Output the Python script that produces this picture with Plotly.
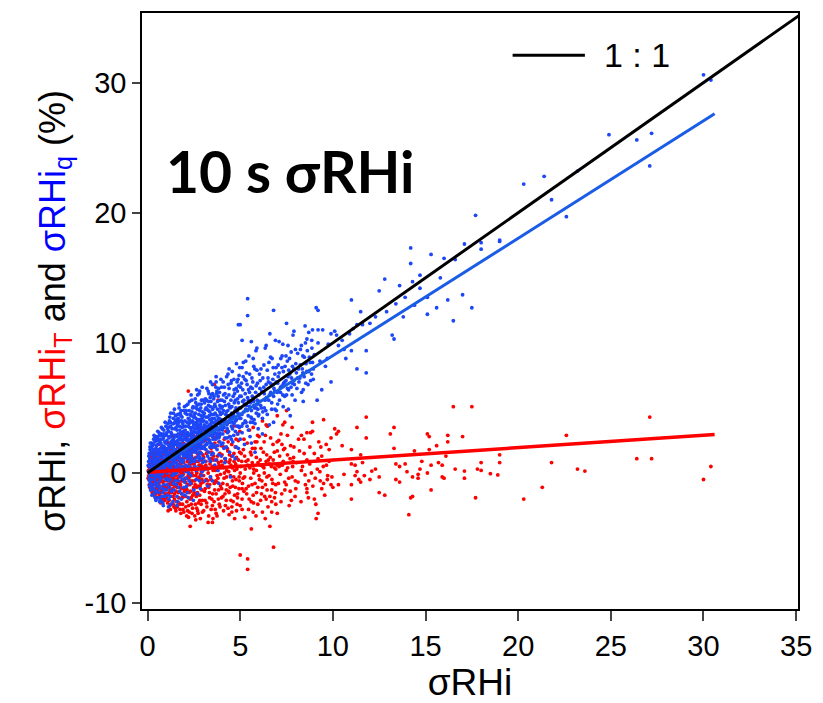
import plotly.graph_objects as go

# ---- sigma RHi (x) vs. sigma RHi_q (blue) and sigma RHi_T (red), 10 s windows ----

blue_core = [
    (0.05,0.1),(0.08,-0.4),(0.1,0.5),(0.12,1.1),(0.15,-0.8),(0.18,0.3),(0.2,1.6),(0.22,-1.2),(0.25,0.8),(0.27,2.1),
    (0.3,-0.2),(0.32,1.3),(0.35,-1.6),(0.37,0.6),(0.4,2.4),(0.42,-0.7),(0.45,1.9),(0.47,0.0),(0.5,-1.0),(0.06,0.9),
    (0.11,-1.0),(0.14,1.8),(0.19,-0.1),(0.24,-1.7),(0.29,0.4),(0.33,2.6),(0.38,-1.3),(0.43,1.0),(0.48,2.8),(0.16,0.6),
    (0.21,-0.5),(0.26,1.4),(0.31,-0.9),(0.36,0.2),(0.41,-1.9),(0.46,0.7),(0.09,1.5),(0.13,-0.2),(0.23,2.3),(0.34,1.7),
    (0.39,0.9),(0.44,-0.3),(0.49,1.5),
    (0.52,0.4),(0.55,2.2),(0.57,-1.5),(0.6,1.1),(0.62,3.1),(0.65,-0.6),(0.67,0.8),(0.7,2.6),(0.72,-2.1),(0.75,1.6),
    (0.77,-0.1),(0.8,3.4),(0.82,0.5),(0.85,-1.2),(0.87,2.0),(0.9,1.0),(0.92,-1.8),(0.95,2.9),(0.97,0.2),(1.0,1.4),
    (0.53,-0.8),(0.58,1.8),(0.63,0.0),(0.68,-1.0),(0.73,3.0),(0.78,1.2),(0.83,-2.3),(0.88,0.7),(0.93,2.4),(0.98,-0.5),
    (0.54,2.8),(0.59,-1.9),(0.64,1.5),(0.69,0.3),(0.74,-0.4),(0.79,2.1),(0.84,1.8),(0.89,-0.9),(0.94,0.6),(0.99,3.6),
    (0.56,0.9),(0.61,-0.3),(0.66,2.4),(0.71,1.3),(0.76,0.6),(0.81,-1.5),(0.86,2.7),(0.91,0.3),(0.96,1.7),(0.51,1.6),
    (1.02,0.6),(1.05,2.5),(1.07,-1.7),(1.1,3.8),(1.12,1.1),(1.15,-0.6),(1.17,2.0),(1.2,4.3),(1.22,0.2),(1.25,-2.4),
    (1.27,1.6),(1.3,3.0),(1.32,-0.2),(1.35,2.3),(1.37,0.9),(1.4,4.6),(1.42,-1.3),(1.45,1.4),(1.47,3.4),(1.5,0.4),
    (1.03,-0.4),(1.08,1.9),(1.13,3.2),(1.18,-1.1),(1.23,2.8),(1.28,0.6),(1.33,1.9),(1.38,-0.8),(1.43,2.7),(1.48,1.2),
    (1.04,3.1),(1.09,0.1),(1.14,-2.0),(1.19,1.4),(1.24,3.6),(1.29,-1.4),(1.34,0.8),(1.39,2.0),(1.44,-0.1),(1.49,3.9),
    (1.06,1.3),(1.11,2.2),(1.16,0.5),(1.21,-0.5),(1.26,2.4),(1.31,1.0),(1.36,3.8),(1.41,0.0),(1.46,2.2),(1.01,-1.3),
    (1.52,2.3),(1.55,-0.9),(1.57,4.1),(1.6,1.3),(1.62,-2.2),(1.65,3.0),(1.67,0.6),(1.7,5.0),(1.72,1.9),(1.75,-0.3),
    (1.77,2.8),(1.8,4.4),(1.82,1.0),(1.85,-1.6),(1.87,3.5),(1.9,2.1),(1.92,0.2),(1.95,4.8),(1.97,1.5),(2.0,-0.7),
    (1.53,1.6),(1.58,0.0),(1.63,2.5),(1.68,3.9),(1.73,-1.4),(1.78,1.5),(1.83,2.6),(1.88,0.8),(1.93,3.2),(1.98,2.0),
    (1.54,3.5),(1.59,-1.8),(1.64,1.1),(1.69,2.2),(1.74,3.3),(1.79,0.3),(1.84,4.0),(1.89,-0.5),(1.94,1.3),(1.99,3.0),
    (1.56,0.8),(1.61,3.7),(1.66,-0.6),(1.71,1.2),(1.76,4.6),(1.81,2.0),(1.86,0.5),(1.91,2.9),(1.96,-1.1),(1.51,4.4),
    (2.02,1.8),(2.05,3.6),(2.07,0.1),(2.1,5.2),(2.12,2.5),(2.15,-1.5),(2.17,1.1),(2.2,4.2),(2.22,2.9),(2.25,0.5),
    (2.27,5.5),(2.3,1.7),(2.32,-0.8),(2.35,3.3),(2.37,2.2),(2.4,4.7),(2.42,0.9),(2.45,3.0),(2.47,-2.1),(2.5,2.0),
    (2.03,2.7),(2.08,-0.4),(2.13,3.9),(2.18,1.6),(2.23,0.0),(2.28,3.5),(2.33,2.6),(2.38,1.2),(2.43,4.0),(2.48,2.7),
    (2.04,4.6),(2.09,1.3),(2.14,2.1),(2.19,3.0),(2.24,-0.6),(2.29,2.4),(2.34,4.4),(2.39,0.3),(2.44,1.7),(2.49,3.7),
    (2.06,0.6),(2.11,-1.0),(2.16,3.1),(2.21,1.9),(2.26,4.1),(2.31,0.8),(2.36,1.5),(2.41,2.8),(2.46,5.1),(2.01,-1.7),
    (2.52,3.2),(2.55,1.0),(2.57,5.7),(2.6,2.4),(2.62,-0.5),(2.65,3.9),(2.67,1.8),(2.7,6.0),(2.72,2.9),(2.75,0.4),
    (2.77,4.5),(2.8,2.1),(2.82,3.5),(2.85,-1.2),(2.87,5.0),(2.9,1.5),(2.92,3.0),(2.95,4.2),(2.97,0.8),(3.0,2.6),
    (2.53,2.0),(2.58,4.6),(2.63,0.2),(2.68,3.4),(2.73,2.2),(2.78,5.3),(2.83,1.2),(2.88,3.9),(2.93,2.4),(2.98,5.6),
    (2.54,4.3),(2.59,1.6),(2.64,2.8),(2.69,-1.6),(2.74,3.7),(2.79,1.0),(2.84,2.7),(2.89,4.4),(2.94,0.1),(2.99,3.3),
    (2.56,0.5),(2.61,5.0),(2.66,2.1),(2.71,4.0),(2.76,1.4),(2.81,6.3),(2.86,2.3),(2.91,-0.2),(2.96,2.9),
    (3.02,3.5),(3.05,1.9),(3.08,5.4),(3.1,2.7),(3.13,0.3),(3.15,4.3),(3.18,2.2),(3.2,6.5),(3.23,3.1),(3.25,-1.0),
    (3.28,4.8),(3.3,1.6),(3.33,3.7),(3.35,2.5),(3.38,5.8),(3.4,0.9),(3.43,3.2),(3.45,4.5),(3.48,2.0),(3.5,6.8),
    (3.04,4.0),(3.09,0.9),(3.14,2.8),(3.19,3.9),(3.24,1.3),(3.29,5.2),(3.34,2.9),(3.39,-0.3),(3.44,4.0),(3.49,2.8),
    (3.06,2.9),(3.16,5.0),(3.26,2.6),(3.36,4.1),(3.46,1.4),(3.11,-0.6),(3.21,3.4),(3.31,6.1),(3.41,2.3),(3.47,3.6),
]

blue_core_b = [
    (0.04,0.6),(0.07,1.3),(0.1,-0.6),(0.13,2.0),(0.16,-1.3),(0.19,0.9),(0.22,1.9),(0.25,0.1),(0.28,-1.1),(0.31,2.2),
    (0.34,0.5),(0.37,1.2),(0.4,-0.5),(0.43,2.6),(0.46,-1.4),(0.49,0.3),(0.52,2.5),(0.55,-0.2),(0.58,1.4),(0.61,0.6),
    (0.64,-1.2),(0.67,3.0),(0.7,1.9),(0.73,0.9),(0.76,-1.8),(0.79,2.9),(0.82,1.3),(0.85,0.1),(0.88,3.3),(0.91,2.0),
    (0.94,-1.3),(0.97,1.0),(0.15,2.3),(0.35,2.9),(0.55,3.2),(0.75,3.5),(0.95,3.9),(0.45,-2.1),(0.65,-2.2),(0.85,-2.5),
    (1.03,1.7),(1.06,-0.9),(1.09,3.4),(1.12,0.7),(1.15,2.7),(1.18,4.0),(1.21,1.2),(1.24,-1.8),(1.27,3.1),(1.3,0.2),
    (1.33,2.5),(1.36,1.4),(1.39,4.2),(1.42,0.7),(1.45,2.9),(1.48,-0.6),(1.51,1.8),(1.54,3.9),(1.57,0.5),(1.6,2.8),
    (1.63,4.5),(1.66,1.7),(1.69,-1.1),(1.72,3.6),(1.75,2.3),(1.78,0.9),(1.81,4.8),(1.84,2.2),(1.87,-0.2),(1.9,3.8),
    (1.93,1.8),(1.96,2.6),(1.99,5.1),(1.13,-2.6),(1.37,-2.2),(1.58,-2.5),(1.82,-2.0),(1.25,4.6),(1.45,4.9),(1.7,5.3),
    (1.05,0.0),(1.35,0.1),(1.65,0.3),(1.95,0.2),
    (2.03,3.3),(2.06,1.4),(2.09,4.8),(2.12,0.4),(2.15,2.9),(2.18,5.3),(2.21,2.4),(2.24,3.8),(2.27,1.3),(2.3,4.5),
    (2.33,-0.2),(2.36,2.8),(2.39,5.6),(2.42,3.5),(2.45,1.9),(2.48,4.3),(2.51,2.6),(2.54,0.9),(2.57,3.7),(2.6,5.4),
    (2.63,3.1),(2.66,1.2),(2.69,4.9),(2.72,2.0),(2.75,3.3),(2.78,6.1),(2.81,4.1),(2.84,1.9),(2.87,3.2),(2.9,5.3),
    (2.93,2.0),(2.96,4.7),(2.99,1.1),(2.2,-1.9),(2.5,-1.3),(2.8,-0.6),(2.35,6.0),(2.65,6.4),(2.95,6.6),(2.12,3.0),
    (2.4,2.5),(2.7,3.0),
    (3.03,2.4),(3.06,4.6),(3.09,3.3),(3.12,5.7),(3.15,1.8),(3.18,3.6),(3.21,4.9),(3.24,2.3),(3.27,6.3),(3.3,3.5),
    (3.33,1.1),(3.36,4.7),(3.39,3.0),(3.42,5.5),(3.45,2.2),(3.48,4.2),(3.51,6.1),(3.54,3.4),(3.57,4.5),(3.6,2.0),
    (3.63,5.3),(3.66,3.6),(3.69,6.6),(3.72,2.8),(3.75,4.4),(3.78,3.3),(3.81,5.9),(3.84,1.4),(3.87,4.2),(3.9,5.2),
    (3.93,3.0),(3.96,7.2),(3.99,2.2),(3.2,0.4),(3.5,-0.6),(3.8,0.2),(3.4,7.0),(3.7,7.4),
    (4.02,5.6),(4.06,3.0),(4.1,4.8),(4.14,6.6),(4.18,2.7),(4.22,4.5),(4.26,5.8),(4.3,3.4),(4.34,7.6),(4.38,4.0),
    (4.42,5.1),(4.46,2.8),(4.5,6.9),(4.54,4.6),(4.58,3.4),(4.62,5.9),(4.66,7.2),(4.7,4.3),(4.74,3.2),(4.78,6.5),
    (4.82,4.7),(4.86,5.7),(4.9,3.6),(4.94,7.5),(4.98,4.2),(4.2,1.1),(4.6,1.3),(4.9,1.9),(4.4,8.0),(4.8,8.4),
]

blue_core_c = [
    (0.3,1.0),(0.33,0.3),(0.36,1.8),(0.39,2.7),(0.42,1.4),(0.45,0.4),(0.48,2.1),(0.51,1.1),(0.54,0.2),(0.57,2.6),
    (0.6,1.7),(0.63,0.8),(0.66,2.9),(0.69,1.5),(0.72,2.3),(0.75,0.2),(0.78,1.8),(0.81,2.6),(0.84,0.9),(0.87,3.0),
    (0.9,1.6),(0.93,0.5),(0.96,2.3),(0.99,1.2),
    (1.02,2.9),(1.05,1.5),(1.08,0.7),(1.11,3.5),(1.14,1.9),(1.17,2.8),(1.2,1.6),(1.23,3.9),(1.26,0.4),(1.29,2.2),
    (1.32,3.4),(1.35,1.7),(1.38,2.6),(1.41,3.8),(1.44,1.0),(1.47,2.4),(1.5,4.0),(1.53,2.9),(1.56,1.3),(1.59,3.3),
    (1.62,2.1),(1.65,4.2),(1.68,1.4),(1.71,2.6),(1.74,4.0),(1.77,1.9),(1.8,3.1),(1.83,1.5),(1.86,4.3),(1.89,2.5),
    (1.92,3.6),(1.95,1.0),(1.98,2.8),
    (2.01,4.0),(2.04,2.2),(2.07,3.0),(2.1,1.6),(2.13,4.5),(2.16,2.6),(2.19,3.6),(2.22,1.4),(2.25,4.8),(2.28,2.9),
    (2.31,3.9),(2.34,1.0),(2.37,3.1),(2.4,2.0),(2.43,5.0),(2.46,3.9),(2.49,2.3),(2.52,4.5),(2.55,3.4),(2.58,1.8),
    (2.61,4.2),(2.64,3.6),(2.67,5.2),(2.7,2.5),(2.73,4.1),(2.76,3.1),(2.79,1.6),(2.82,4.8),(2.85,3.7),(2.88,2.6),
    (2.91,5.6),(2.94,3.5),(2.97,4.0),
    (3.0,1.9),(3.03,4.4),(3.06,3.7),(3.09,2.1),(3.12,4.9),(3.15,3.0),(3.18,5.6),(3.21,2.6),(3.24,4.3),(3.27,3.3),
    (3.3,5.5),(3.33,4.4),(3.36,2.0),(3.39,5.1),(3.42,3.8),(3.45,6.0),(3.48,3.2),(3.51,4.9),(3.54,2.6),(3.57,5.7),
    (3.6,4.2),(3.63,3.1),(3.66,5.1),(3.69,4.0),(3.72,6.1),(3.75,3.0),(3.78,4.9),(3.81,3.8),(3.84,6.5),(3.87,2.8),
    (3.9,4.7),(3.93,5.6),(3.96,3.6),(3.99,5.0),
    (4.04,5.1),(4.11,3.9),(4.18,6.1),(4.25,4.7),(4.32,3.1),(4.39,6.0),(4.46,5.0),(4.53,7.1),(4.6,3.9),(4.67,6.4),
    (4.74,5.6),(4.81,3.6),(4.88,7.2),(4.95,5.0),(5.02,6.6),(5.09,4.5),(5.16,7.4),(5.23,5.3),(5.3,3.9),(5.37,6.8),
    (5.44,5.6),(5.51,7.6),(5.58,4.3),(5.65,6.5),(5.72,5.5),(5.79,8.0),(5.86,5.0),(5.93,6.9),(6.0,4.5),
    (6.06,6.5),(6.14,5.0),(6.22,7.3),(6.3,6.1),(6.38,4.8),(6.46,7.9),(6.54,5.6),(6.62,6.9),(6.7,4.9),(6.78,8.1),
    (6.86,6.3),(6.94,7.0),(7.02,5.3),(7.1,7.7),(7.18,6.6),(7.26,9.0),(7.34,6.9),(7.42,8.2),(7.5,6.0),(7.58,7.4),
    (7.66,8.8),(7.74,6.6),(7.82,8.2),(7.9,7.1),(7.98,9.5),(8.06,6.5),(8.14,8.0),(8.22,7.3),(8.3,9.8),(8.38,7.7),
    (8.46,8.9),(8.54,6.9),(8.62,9.4),(8.7,7.8),(8.78,8.5),(8.86,10.2),(8.94,7.2),
]

blue_mid = [
    (3.52,3.9),(3.55,2.2),(3.58,5.1),(3.6,3.2),(3.63,0.6),(3.65,4.6),(3.68,2.6),(3.7,7.0),(3.73,3.5),(3.75,1.8),
    (3.78,5.5),(3.8,3.0),(3.83,4.2),(3.85,-0.8),(3.88,6.2),(3.9,2.4),(3.93,3.8),(3.95,5.0),(3.98,1.3),(4.0,3.5),
    (3.54,1.5),(3.64,3.8),(3.74,6.3),(3.84,2.7),(3.94,4.5),(3.59,5.9),(3.69,1.0),(3.79,4.0),(3.89,3.3),(3.99,6.6),
    (3.57,3.0),(3.77,2.1),(3.97,4.1),
    (4.03,4.6),(4.07,2.3),(4.1,6.0),(4.13,3.5),(4.17,0.8),(4.2,5.2),(4.23,3.9),(4.27,7.4),(4.3,2.7),(4.33,4.8),
    (4.37,3.2),(4.4,6.5),(4.43,1.6),(4.47,4.2),(4.5,5.6),(4.53,3.6),(4.57,7.8),(4.6,2.4),(4.63,4.5),(4.67,3.8),
    (4.7,6.1),(4.73,1.1),(4.77,5.0),(4.8,4.1),(4.83,7.0),(4.87,3.0),(4.9,5.4),(4.93,4.4),(4.97,8.1),(5.0,2.6),
    (4.05,3.3),(4.15,5.5),(4.25,2.0),(4.35,6.8),(4.45,3.9),(4.55,5.1),(4.65,2.9),(4.75,4.0),(4.85,6.3),(4.95,3.5),
    (4.08,7.0),(4.18,4.1),(4.28,3.7),(4.38,5.3),(4.48,-0.3),(4.58,4.3),(4.68,5.4),(4.78,2.0),(4.88,4.6),(4.98,5.9),
    (4.12,1.9),(4.32,4.4),(4.52,2.6),(4.72,4.8),(4.92,6.7),
    (5.03,4.2),(5.07,6.9),(5.1,3.1),(5.13,5.5),(5.17,8.5),(5.2,4.7),(5.23,2.2),(5.27,6.1),(5.3,4.9),(5.33,7.7),
    (5.37,3.6),(5.4,5.8),(5.43,4.4),(5.47,9.0),(5.5,5.1),(5.53,2.8),(5.57,6.6),(5.6,4.8),(5.63,7.3),(5.67,3.9),
    (5.7,5.6),(5.73,8.2),(5.77,5.0),(5.8,1.6),(5.83,6.2),(5.87,4.6),(5.9,7.9),(5.93,5.3),(5.97,3.4),(6.0,6.0),
    (5.05,5.9),(5.15,3.8),(5.25,7.2),(5.35,5.2),(5.45,6.4),(5.55,3.9),(5.65,5.9),(5.75,4.1),(5.85,9.4),(5.95,4.9),
    (4.9,11.4),(5.4,13.4),(5.4,12.1),(5.1,10.2),(5.6,10.1),(5.7,8.8),(5.1,8.1),(5.0,11.4),
    (5.02,5.0),(5.08,3.6),(5.14,6.4),(5.2,5.6),(5.26,4.0),(5.32,7.1),(5.38,4.8),(5.44,3.3),(5.5,6.2),(5.56,5.4),
    (5.62,4.2),(5.68,7.0),(5.74,5.2),(5.8,3.8),(5.86,6.7),(5.92,5.6),(5.98,4.4),(5.3,8.6),(5.9,9.6),(5.6,2.3),
    (6.05,5.5),(6.12,8.0),(6.2,4.2),(6.27,6.6),(6.35,9.6),(6.42,5.8),(6.5,7.3),(6.57,3.7),(6.65,6.2),(6.72,8.8),
    (6.8,5.9),(6.87,7.6),(6.95,4.8),(7.02,6.9),(7.1,10.1),(7.17,6.2),(7.25,8.1),(7.32,5.1),(7.4,7.0),(7.47,9.0),
    (7.55,6.5),(7.62,7.9),(7.7,4.4),(7.77,7.3),(7.85,10.6),(7.92,6.8),(8.0,8.4),(6.08,7.1),(6.3,5.0),(6.55,8.5),
    (6.78,6.8),(7.05,8.3),(7.3,6.0),(7.58,9.8),(7.8,6.0),(6.6,10.7),(6.8,12.5),(7.5,11.5),
    (6.04,7.6),(6.1,5.2),(6.16,6.3),(6.22,4.7),(6.28,8.3),(6.34,5.6),(6.4,6.8),(6.46,4.5),(6.52,7.0),(6.58,6.0),
    (6.64,8.9),(6.7,5.4),(6.76,7.2),(6.82,6.5),(6.88,4.9),(6.94,8.1),(7.0,6.2),(6.4,9.8),(6.9,10.2),(6.2,3.0),
    (6.8,3.9),
    (7.05,7.4),(7.12,5.6),(7.19,8.8),(7.26,6.7),(7.33,7.8),(7.4,5.9),(7.47,7.1),(7.54,8.6),(7.61,6.4),(7.68,7.6),
    (7.75,9.3),(7.82,6.9),(7.89,8.0),(7.96,5.6),(8.03,7.7),(8.1,9.2),(8.17,7.0),(8.24,8.3),(8.31,6.2),(8.38,9.0),
    (8.45,7.4),(8.52,10.0),(8.59,7.8),(8.66,6.8),(8.73,8.9),(8.8,7.1),(8.87,9.6),(8.94,8.0),(7.3,9.9),(7.9,10.9),
    (8.5,11.3),(8.4,5.5),(7.6,4.9),
    (8.1,7.3),(8.25,9.5),(8.4,6.4),(8.55,8.4),(8.7,10.8),(8.85,7.6),(9.0,9.1),(9.15,5.6),(9.3,8.6),(9.45,11.0),
    (9.6,8.2),(9.75,9.9),(9.9,7.0),(8.35,8.0),(8.9,8.5),(9.2,10.0),(9.7,8.8),(9.1,12.7),(9.2,12.5),(9.4,6.4),
    (8.6,10.3),(8.9,11.0),(9.2,11.0),(9.9,10.7),(10.1,10.9),
]

blue_tail = [
    (10.2,10.6),(10.3,9.8),(10.7,8.8),(10.9,10.7),(11.1,11.1),(11.0,13.3),(11.5,12.4),(11.8,9.4),(11.8,7.7),(11.3,8.0),
    (11.0,9.4),(11.3,11.4),(11.6,11.4),(12.3,12.0),(12.5,14.0),(12.8,14.9),(13.2,10.6),(13.3,10.3),(13.4,13.0),(13.6,14.4),
    (13.9,13.5),(14.2,17.3),(14.2,16.1),(14.4,12.9),(14.7,14.2),(14.7,15.2),(14.3,14.7),(15.3,16.8),(15.1,12.2),(15.1,13.5),
    (15.6,12.7),(15.8,15.0),(16.0,16.5),(16.2,13.3),(16.5,11.7),(16.6,16.4),(17.0,13.7),(17.1,17.6),(17.5,12.7),(17.7,19.8),
    (18.0,17.2),(18.0,17.7),(19.0,17.8),(19.0,17.9),(20.3,22.2),(21.4,22.8),(21.8,21.0),(22.6,19.7),(23.2,23.2),(24.9,26.0),
    (26.4,25.6),(27.2,26.1),(27.1,23.6),(30.0,30.6),(30.4,30.2),(10.5,10.2),(12.0,11.5),(12.9,12.4),(13.8,12.0),(10.6,9.5),
]

red_core = [
    (0.05,0.2),(0.08,-0.5),(0.1,0.8),(0.12,-1.1),(0.15,0.0),(0.18,1.3),(0.2,-0.3),(0.22,0.6),(0.25,-1.5),(0.27,0.3),
    (0.3,1.6),(0.32,-0.8),(0.35,0.9),(0.37,-0.1),(0.4,-1.8),(0.42,0.5),(0.45,1.2),(0.47,-0.6),(0.5,0.1),(0.07,-0.2),
    (0.13,0.4),(0.17,-0.7),(0.23,1.0),(0.28,-0.4),(0.33,0.2),(0.38,1.4),(0.43,-1.2),(0.48,0.7),(0.11,0.1),(0.21,-1.0),
    (0.31,0.5),(0.41,-0.3),(0.46,-1.6),
    (0.52,-1.0),(0.55,0.6),(0.57,1.8),(0.6,-0.4),(0.62,0.2),(0.65,-1.7),(0.67,1.1),(0.7,-0.2),(0.72,0.8),(0.75,-1.3),
    (0.77,2.0),(0.8,0.3),(0.82,-0.7),(0.85,1.4),(0.87,-2.0),(0.9,0.0),(0.92,0.9),(0.95,-1.0),(0.97,1.7),(1.0,-0.3),
    (0.54,0.1),(0.59,-0.9),(0.64,1.4),(0.69,0.4),(0.74,-0.6),(0.79,1.0),(0.84,-1.5),(0.89,0.6),(0.94,-0.1),(0.99,0.7),
    (0.56,-1.4),(0.66,-0.1),(0.76,0.5),(0.86,-0.3),(0.96,0.3),(0.61,2.2),(0.71,-2.3),(0.81,1.6),(0.91,-1.8),
    (1.02,0.5),(1.05,-1.2),(1.07,1.3),(1.1,-0.4),(1.12,2.3),(1.15,0.1),(1.17,-2.1),(1.2,0.9),(1.22,-0.8),(1.25,1.7),
    (1.27,-0.1),(1.3,-1.5),(1.32,0.6),(1.35,2.5),(1.37,-0.6),(1.4,0.3),(1.42,-2.6),(1.45,1.1),(1.47,-1.0),(1.5,0.2),
    (1.04,-0.2),(1.09,0.8),(1.14,-1.6),(1.19,1.9),(1.24,0.2),(1.29,-0.4),(1.34,1.3),(1.39,-1.8),(1.44,0.5),(1.49,-0.2),
    (1.06,1.8),(1.16,-0.9),(1.26,0.9),(1.36,-1.2),(1.46,1.6),(1.11,-2.9),(1.21,0.4),(1.31,1.0),(1.41,-0.7),(1.03,-1.9),
    (1.52,-0.9),(1.55,1.0),(1.57,-2.2),(1.6,0.4),(1.62,2.0),(1.65,-0.3),(1.67,-1.5),(1.7,1.3),(1.72,0.1),(1.75,-2.8),
    (1.77,0.7),(1.8,2.6),(1.82,-0.6),(1.85,0.2),(1.87,-1.9),(1.9,1.6),(1.92,-0.1),(1.95,0.8),(1.97,-1.2),(2.0,2.2),
    (1.54,0.3),(1.59,-1.1),(1.64,1.5),(1.69,-0.7),(1.74,0.9),(1.79,-0.3),(1.84,1.8),(1.89,-2.4),(1.94,0.5),(1.99,-0.5),
    (1.56,2.4),(1.66,0.6),(1.76,-1.0),(1.86,1.1),(1.96,-3.0),(1.61,-2.6),(1.71,-0.2),(1.81,3.0),(1.91,0.0),
    (2.02,-0.4),(2.05,1.2),(2.07,-1.8),(2.1,0.5),(2.12,2.7),(2.15,-0.9),(2.17,0.1),(2.2,1.7),(2.22,-2.5),(2.25,0.8),
    (2.27,-0.3),(2.3,2.1),(2.32,-1.4),(2.35,0.4),(2.37,1.3),(2.4,-3.1),(2.42,-0.6),(2.45,0.9),(2.47,2.9),(2.5,-1.1),
    (2.04,0.2),(2.09,-1.2),(2.14,1.5),(2.19,-0.2),(2.24,0.6),(2.29,-2.0),(2.34,1.9),(2.39,0.0),(2.44,-1.7),(2.49,1.1),
    (2.06,2.0),(2.16,-2.9),(2.26,1.0),(2.36,-0.8),(2.46,0.3),(2.2,6.3),(2.3,-4.1),(2.11,-3.3),
    (2.52,0.7),(2.55,-1.6),(2.57,1.8),(2.6,-0.2),(2.62,0.9),(2.65,-2.7),(2.67,2.4),(2.7,0.3),(2.72,-1.0),(2.75,1.4),
    (2.77,-0.5),(2.8,3.1),(2.82,-2.1),(2.85,0.6),(2.87,-0.1),(2.9,1.9),(2.92,-1.3),(2.95,0.5),(2.97,2.6),(3.0,-0.7),
    (2.54,-0.6),(2.59,2.0),(2.64,0.1),(2.69,-1.5),(2.74,0.9),(2.79,-0.3),(2.84,1.6),(2.89,-2.4),(2.94,1.0),(2.99,0.2),
    (2.6,-3.6),(2.7,-2.9),(2.85,3.4),
    (3.03,1.2),(3.07,-1.4),(3.1,0.4),(3.13,2.5),(3.17,-0.5),(3.2,-2.6),(3.23,1.6),(3.27,0.0),(3.3,-1.1),(3.33,3.0),
    (3.37,0.7),(3.4,-0.3),(3.43,1.9),(3.47,-2.0),(3.5,0.5),(3.53,-3.5),(3.57,1.3),(3.6,-0.8),(3.63,2.3),(3.67,0.2),
    (3.7,-1.6),(3.73,1.0),(3.77,3.4),(3.8,-0.4),(3.83,0.8),(3.87,-2.4),(3.9,1.5),(3.93,-0.1),(3.97,2.1),(4.0,-1.2),
    (3.15,0.9),(3.35,-1.9),(3.55,2.8),(3.75,-0.2),(3.95,0.4),(3.25,-0.6),(3.45,1.1),(3.65,-2.8),(3.85,2.4),(3.8,5.6),
    (3.6,6.8),(3.5,-3.8),
    (4.03,0.6),(4.07,-1.8),(4.1,2.0),(4.13,-0.4),(4.17,1.1),(4.2,-2.5),(4.23,3.2),(4.27,0.2),(4.3,-0.9),(4.33,1.7),
    (4.37,-1.4),(4.4,0.8),(4.43,2.8),(4.47,-0.2),(4.5,-2.1),(4.53,1.3),(4.57,0.4),(4.6,-1.0),(4.63,3.6),(4.67,0.9),
    (4.7,-1.7),(4.73,2.0),(4.77,-0.5),(4.8,1.2),(4.83,-2.4),(4.87,0.5),(4.9,2.5),(4.93,-1.2),(4.97,1.6),(5.0,0.0),
    (4.15,0.0),(4.35,2.4),(4.55,-3.0),(4.75,0.7),(4.95,-0.6),(4.25,-1.3),(4.45,1.0),(4.65,-0.3),(4.85,3.0),
]

red_core_b = [
    (0.03,-0.4),(0.06,0.5),(0.09,-0.9),(0.12,0.3),(0.15,1.0),(0.18,-0.2),(0.21,-1.3),(0.24,0.4),(0.27,1.1),(0.3,-0.6),
    (0.33,-1.4),(0.36,0.1),(0.39,0.8),(0.42,-0.9),(0.45,0.0),(0.48,1.6),(0.51,-0.5),(0.54,0.9),(0.57,-1.2),(0.6,0.3),
    (0.63,1.3),(0.66,-0.7),(0.69,-1.9),(0.72,0.1),(0.75,1.1),(0.78,-0.4),(0.81,0.7),(0.84,-1.1),(0.87,0.4),(0.9,1.9),
    (0.93,-0.6),(0.96,-1.6),(0.99,0.2),
    (1.03,0.9),(1.06,-0.6),(1.09,-1.6),(1.12,0.3),(1.15,1.4),(1.18,-0.2),(1.21,-1.3),(1.24,0.7),(1.27,2.0),(1.3,0.0),
    (1.33,-0.9),(1.36,0.5),(1.39,1.5),(1.42,-0.4),(1.45,-2.0),(1.48,0.8),(1.51,0.1),(1.54,-1.4),(1.57,1.2),(1.6,-0.5),
    (1.63,0.6),(1.66,2.2),(1.69,-2.3),(1.72,0.4),(1.75,1.0),(1.78,-0.9),(1.81,0.0),(1.84,-1.6),(1.87,0.9),(1.9,-0.6),
    (1.93,2.3),(1.96,0.3),(1.99,-1.4),(1.2,-2.5),(1.5,-2.7),(1.8,-3.1),(1.35,2.8),
    (2.03,1.5),(2.06,-0.7),(2.09,0.2),(2.12,-2.2),(2.15,0.9),(2.18,-0.4),(2.21,1.1),(2.24,-1.5),(2.27,0.3),(2.3,-0.6),
    (2.33,2.4),(2.36,-2.4),(2.39,0.7),(2.42,1.6),(2.45,-0.2),(2.48,-1.2),(2.51,0.4),(2.54,2.1),(2.57,-0.9),(2.6,1.2),
    (2.63,-1.8),(2.66,0.0),(2.69,1.5),(2.72,-0.4),(2.75,-2.3),(2.78,0.6),(2.81,1.0),(2.84,-1.0),(2.87,2.2),(2.9,0.1),
    (2.93,-0.5),(2.96,-3.0),(2.99,1.4),(2.25,-3.0),(2.55,-3.3),(2.85,-3.5),(2.4,3.0),(2.7,3.6),
    (3.02,-0.2),(3.06,2.0),(3.1,-2.1),(3.14,0.6),(3.18,1.5),(3.22,-0.9),(3.26,0.3),(3.3,2.6),(3.34,-1.5),(3.38,0.9),
    (3.42,-0.5),(3.46,1.6),(3.5,-2.5),(3.54,0.2),(3.58,1.0),(3.62,-1.3),(3.66,2.0),(3.7,0.4),(3.74,-0.7),(3.78,1.3),
    (3.82,-2.0),(3.86,0.6),(3.9,3.0),(3.94,-1.0),(3.98,0.9),(3.3,-3.3),(3.7,-3.1),(3.2,3.5),
    (4.02,1.4),(4.06,-0.8),(4.1,0.4),(4.14,2.6),(4.18,-1.6),(4.22,0.9),(4.26,-0.3),(4.3,1.9),(4.34,-2.7),(4.38,0.1),
    (4.42,1.4),(4.46,-1.1),(4.5,0.6),(4.54,2.2),(4.58,-0.6),(4.62,-2.2),(4.66,1.5),(4.7,0.2),(4.74,-1.1),(4.78,2.6),
    (4.82,0.3),(4.86,-1.6),(4.9,1.0),(4.94,-0.3),(4.98,3.2),(4.4,-3.2),(4.8,-2.9),(4.3,3.8),
]

red_core_c = [
    (0.55,-1.9),(0.62,-1.1),(0.7,-1.5),(0.78,-2.2),(0.86,-0.9),(0.94,-2.1),(1.01,-1.0),(1.08,-2.3),(1.16,-1.5),(1.23,-2.8),
    (1.31,-0.7),(1.38,-2.4),(1.46,-1.6),(1.53,-2.9),(1.61,-0.8),(1.68,-1.9),(1.76,-2.4),(1.83,-1.2),(1.91,-2.8),(1.98,-1.8),
    (2.06,-2.6),(2.13,-1.3),(2.21,-3.4),(2.28,-0.9),(2.36,-1.9),(2.43,-2.7),(2.51,-1.5),(2.58,-2.4),(2.66,-1.1),(2.73,-3.1),
    (2.81,-1.7),(2.88,-0.8),(2.96,-2.1),(3.03,-2.9),(3.11,-1.2),(3.19,-2.3),(3.27,-3.8),(3.35,-0.9),(3.43,-2.8),(3.51,-1.6),
    (3.59,-2.2),(3.67,-0.6),(3.75,-3.3),(3.83,-1.3),(3.91,-2.6),(3.99,-1.9),(4.1,-2.9),(4.25,-2.1),(4.4,-1.5),(4.55,-2.6),
    (4.7,-3.5),(4.85,-1.9),(5.0,-2.5),(5.2,-1.4),(5.45,-2.8),(5.7,-1.7),(5.95,-2.4),(6.2,-3.0),(6.45,-1.3),(6.7,-2.2),
]

red_mid = [
    (5.05,1.5),(5.12,-0.8),(5.2,2.6),(5.27,0.3),(5.35,-1.6),(5.42,1.0),(5.5,3.3),(5.57,-0.4),(5.65,0.8),(5.72,-2.3),
    (5.8,1.9),(5.87,0.2),(5.95,-1.1),(6.02,2.8),(6.1,0.6),(6.17,-0.6),(6.25,1.6),(6.32,-1.8),(6.4,0.9),(6.47,3.6),
    (6.55,-0.2),(6.62,1.2),(6.7,-1.3),(6.77,2.2),(6.85,0.4),(6.92,-0.9),(7.0,1.7),(5.1,-2.8),(5.7,-3.0),(6.7,-3.0),
    (5.1,-2.0),(6.1,-2.1),(6.4,-2.0),(5.0,-6.3),(5.4,-6.6),(5.4,-7.4),(6.8,-5.7),(5.6,-4.3),(6.6,-4.1),(6.4,3.7),
    (7.0,4.4),(5.3,3.9),(5.9,2.4),(6.3,0.0),(5.6,1.4),(6.9,-1.5),
    (5.03,0.5),(5.1,-1.2),(5.17,1.8),(5.24,-0.3),(5.31,0.9),(5.38,2.3),(5.45,-1.0),(5.52,0.4),(5.59,-2.2),(5.66,1.9),
    (5.73,0.0),(5.8,-0.8),(5.87,1.2),(5.94,2.9),(6.01,-0.2),(6.08,1.0),(6.15,-1.6),(6.22,0.5),(6.29,2.4),(6.36,-0.9),
    (6.43,1.4),(6.5,-2.6),(6.57,0.7),(6.64,2.7),(6.71,-0.5),(6.78,1.0),(6.85,-1.9),(6.92,0.3),(6.99,2.4),(7.06,-0.8),
    (7.13,1.3),(7.2,-2.2),(7.27,0.6),(7.34,1.8),(7.41,-1.3),(7.48,0.2),(7.55,2.9),(7.62,-0.4),(7.69,1.1),(7.76,-2.1),
    (7.83,0.5),(7.9,2.0),(7.97,-0.6),(5.25,-3.4),(5.85,-3.3),(6.35,-3.5),(7.0,-3.1),(5.7,3.5),(6.2,4.0),(7.4,3.9),
    (5.08,0.9),(5.16,-0.4),(5.24,1.3),(5.32,-1.2),(5.4,0.6),(5.48,-2.0),(5.56,1.6),(5.64,-0.9),(5.72,0.3),(5.8,2.4),
    (5.88,-1.5),(5.96,0.8),(6.04,-0.5),(6.12,1.9),(6.2,-1.1),(6.28,0.4),(6.36,2.9),(6.44,-0.3),(6.52,1.0),(6.6,-1.8),
    (6.68,0.5),(6.76,-0.8),(6.84,1.6),(6.92,-2.4),(7.0,0.6),(7.08,2.5),(7.16,-0.1),(7.24,-1.6),(7.32,0.9),(7.4,1.9),
    (7.48,-0.9),(7.56,0.4),(7.64,-2.5),(7.72,2.1),(7.8,-0.3),(7.88,1.2),(7.96,-1.8),(8.04,0.8),(8.12,-0.7),(8.2,1.7),
    (8.28,-2.2),(8.36,0.5),(8.44,2.6),(8.52,-0.9),(8.6,1.0),(8.68,-1.9),(8.76,2.0),(8.84,0.0),(8.92,-1.0),(9.0,1.5),
    (9.08,-2.4),(9.16,0.3),(9.24,2.4),(9.32,-0.6),(9.4,1.3),(9.48,0.5),(9.56,-1.7),(9.64,2.2),(9.72,-0.2),(9.8,0.9),
    (7.1,0.5),(7.25,2.2),(7.4,-0.7),(7.55,1.4),(7.7,-1.4),(7.85,0.9),(8.0,-1.2),(8.15,2.6),(8.3,0.2),(8.45,1.5),
    (8.6,-1.5),(8.75,0.7),(8.9,3.2),(9.05,-0.4),(9.2,1.1),(9.35,2.0),(9.5,-0.8),(9.65,0.6),(9.8,1.8),(9.95,-0.3),
    (7.5,4.8),(7.3,3.7),(7.8,3.5),(8.9,3.9),(9.5,4.1),(8.8,3.1),(8.3,2.9),(7.2,3.0),(9.2,-3.1),(9.1,-3.5),
    (9.0,-2.0),(8.6,-1.2),(9.4,-1.2),(9.9,-0.9),(8.7,-0.6),(8.5,-0.15),(9.3,0.1),(9.7,-0.5),(8.6,3.1),(9.9,2.7),
]

red_tail = [
    (10.2,3.0),(10.3,3.2),(10.1,3.4),(10.5,2.1),(10.0,-1.1),(10.3,-0.9),(10.6,-0.1),(11.0,-2.0),(11.0,-0.9),(11.4,-0.5),
    (11.7,-0.2),(12.0,-0.5),(12.5,-0.3),(12.5,-1.5),(12.8,-1.7),(11.8,4.3),(11.3,3.5),(11.8,2.7),(11.0,1.8),(11.5,1.4),
    (11.0,0.7),(11.2,0.6),(11.6,0.8),(12.3,0.3),(12.1,0.15),(11.3,0.1),(11.2,-0.2),(11.5,-0.7),(13.3,3.5),(13.1,3.0),
    (13.3,1.9),(13.4,0.7),(13.6,0.5),(13.9,0.7),(13.4,-0.5),(13.6,-0.7),(14.0,0.1),(14.6,-0.1),(14.3,-0.3),(14.6,-0.4),
    (14.2,-1.9),(14.1,-3.2),(14.3,-1.8),(14.4,1.7),(14.8,0.9),(14.7,0.3),(15.1,3.0),(15.2,2.8),(15.2,1.8),(15.3,0.6),
    (15.1,0.0),(15.3,-1.3),(15.7,0.8),(15.6,2.1),(15.9,-0.3),(15.9,0.6),(16.0,-0.4),(16.1,1.3),(16.2,2.9),(16.2,2.4),
    (16.5,5.1),(16.6,0.3),(17.0,2.8),(17.1,0.15),(17.1,-0.4),(17.5,5.1),(17.7,-1.9),(17.8,0.3),(18.0,0.8),(18.0,0.2),
    (18.5,-0.05),(18.9,-0.15),(19.0,1.4),(19.0,0.8),(20.3,-2.0),(21.3,-1.1),(21.8,0.8),(22.6,2.9),(23.2,0.3),(23.6,0.15),
    (26.4,1.1),(27.1,4.3),(27.2,1.1),(30.4,0.5),(30.0,-0.5),
]

# fitted lines and the 1:1 reference, given by their end points
one_to_one_x = [0.0, 36.0]
one_to_one_y = [0.0, 36.0]
blue_fit_x = [0.0, 30.6]
blue_fit_y = [0.0, 27.6]
red_fit_x = [0.0, 30.6]
red_fit_y = [0.05, 2.95]

x_ticks = [0, 5, 10, 15, 20, 25, 30, 35]
y_ticks = [-10, 0, 10, 20, 30]
y_tick_text = ["-10", "0", "10", "20", "30"]

BLUE_PTS = "#1c46f8"
BLUE_LINE = "#1a5ce6"
RED = "#ff0000"
FONT = "Liberation Sans, Arial, sans-serif"
MARKER_SIZE = 3.8


def split(points):
    return [p[0] for p in points], [p[1] for p in points]


bx, by = split(blue_core + blue_core_b + blue_core_c + blue_mid + blue_tail)
rx, ry = split(red_core + red_core_b + red_core_c + red_mid + red_tail)

fig = go.Figure()
fig.add_trace(go.Scatter(x=rx, y=ry, mode="markers",
                         marker=dict(color=RED, size=MARKER_SIZE, line=dict(width=0)),
                         showlegend=False))
fig.add_trace(go.Scatter(x=bx, y=by, mode="markers",
                         marker=dict(color=BLUE_PTS, size=MARKER_SIZE, line=dict(width=0)),
                         showlegend=False))
fig.add_trace(go.Scatter(x=blue_fit_x, y=blue_fit_y, mode="lines",
                         line=dict(color=BLUE_LINE, width=3), showlegend=False))
fig.add_trace(go.Scatter(x=red_fit_x, y=red_fit_y, mode="lines",
                         line=dict(color=RED, width=3.5), showlegend=False))
fig.add_trace(go.Scatter(x=one_to_one_x, y=one_to_one_y, mode="lines",
                         line=dict(color="black", width=3), showlegend=False))

# legend key for the 1:1 line
fig.add_shape(type="line", xref="x", yref="y", x0=19.7, x1=23.6, y0=32.1, y1=32.1,
              line=dict(color="black", width=3))
fig.add_annotation(x=24.5, y=32.1, xref="x", yref="y", text="1 : 1", showarrow=False,
                   xanchor="left", yanchor="middle", font=dict(family=FONT, size=34, color="black"))

fig.add_annotation(x=0.034, y=0.735, xref="paper", yref="paper", text="<b>10 s σRHi</b>",
                   showarrow=False, xanchor="left", yanchor="middle",
                   font=dict(family="Lato, Open Sans, sans-serif", size=57, color="black"))

ytitle = ('σRHi, <span style="color:#ff0000">σRHi<sub>T</sub></span> and '
          '<span style="color:#0000ff">σRHi<sub>q</sub></span> (%)')

fig.update_layout(
    width=823, height=703,
    margin=dict(l=142, r=21, t=11, b=94),
    paper_bgcolor="white", plot_bgcolor="white",
    font=dict(family=FONT, color="black"),
    xaxis=dict(range=[-0.3, 35.1], tickvals=x_ticks, ticks="outside", ticklen=10, tickwidth=1.5,
               showline=True, linecolor="black", linewidth=1.5, mirror=True,
               showgrid=False, zeroline=False, tickfont=dict(size=29),
               title=dict(text="σRHi", font=dict(size=37), standoff=2)),
    yaxis=dict(range=[-10.45, 35.35], tickvals=y_ticks, ticktext=y_tick_text, ticks="outside",
               ticklen=8, tickwidth=1.5,
               showline=True, linecolor="black", linewidth=1.5, mirror=True,
               showgrid=False, zeroline=False, tickfont=dict(size=29),
               title=dict(text=ytitle, font=dict(size=36), standoff=8)),
)

fig.write_html("out.html")
